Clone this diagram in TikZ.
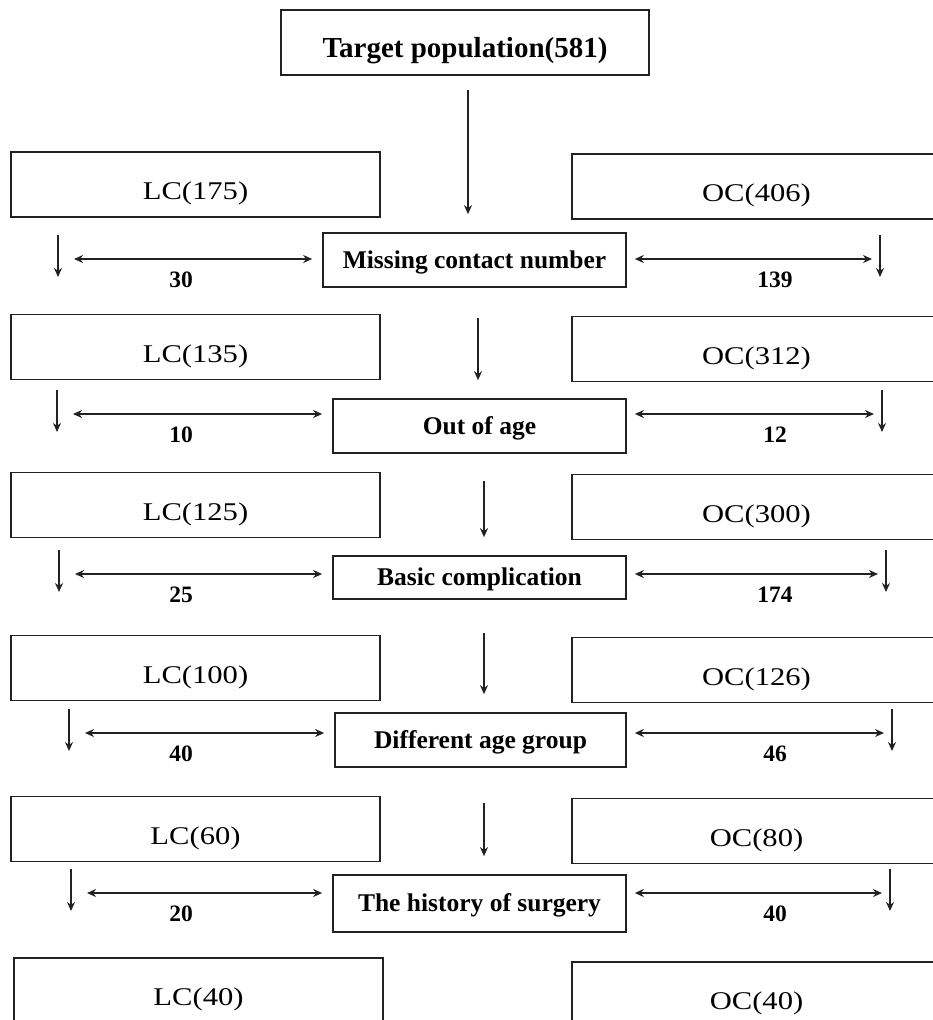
\documentclass[tikz,border=0pt]{standalone}
\usepackage{fontspec}
\setmainfont{Liberation Serif}
\newfontfamily\widefont[FakeStretch=1.2]{Liberation Serif}
\usetikzlibrary{arrows.meta}
\definecolor{INK}{HTML}{222222}

\begin{document}
\begin{tikzpicture}[
    x=1pt, y=-1pt,
    box/.style={draw=INK, line width=1.7pt, inner sep=0pt},
    cbox/.style={box, minimum width=369pt, minimum height=65pt, text height=30pt, text depth=0pt, font=\widefont\fontsize{25.5}{30}\selectfont},
    mbox/.style={box, text height=18pt, text depth=2pt, font=\fontsize{25.5}{30}\selectfont\bfseries},
    topbox/.style={box, minimum width=368pt, minimum height=65pt, text height=30pt, text depth=0pt, font=\fontsize{29}{34}\selectfont\bfseries},
    num/.style={anchor=base, inner sep=0pt, font=\fontsize{23.5}{28}\selectfont\bfseries},
    arr/.style={-{Stealth[length=9pt,width=8pt]}, INK, line width=1.6pt},
    dbl/.style={{Stealth[length=9pt,width=8pt]}-{Stealth[length=9pt,width=8pt]}, INK, line width=1.6pt},
  ]
  \useasboundingbox (0,0) rectangle (933,1020);
  \clip (0,0) rectangle (933,1020);

  % top
  \node[topbox] (top) at (465,42.5) {Target population(581)};

  % filter rows
  \foreach \row/\by/\mx/\my/\mh/\ay/\lx/\rx/\cx/\cy/\lcn/\ocn/\mtxt/\lnum/\rnum in {
      1/184.5/323/260/54/259/58/880/468/90/175/406/Missing contact number/30/139,
      2/347/333/426/54/414/57/882/478/318/135/312/Out of age/10/12,
      3/505/333/577.5/43/574/59/886/484/481/125/300/Basic complication/25/174,
      4/668/335/740/54/733/69/892/484/633/100/126/Different age group/40/46,
      5/829/333/903.5/57/893/71/890/484/803/60/80/The history of surgery/20/40} {
    \node[cbox] (lc\row) at (195.5,\by) {LC(\lcn)};
    \node[cbox] (oc\row) at (756.5,\by+2) {OC(\ocn)};
    \node[mbox, minimum width={(626-\mx)*1pt}, minimum height={\mh*1pt}] (m\row) at ({(\mx+626)/2},\my) {\mtxt};
    % into the middle box
    \coordinate (v\row) at (\cx,\cy);
    \draw[arr, shorten >=18pt] (v\row) -- (v\row |- m\row.north);
    % side arrows
    \coordinate (dl\row) at (\lx,\ay-24);
    \coordinate (dr\row) at (\rx,\ay-24);
    \draw[arr] (dl\row) -- ++(0,42);
    \draw[arr] (dr\row) -- ++(0,42);
    \coordinate (al\row) at (\lx+16,\ay);
    \coordinate (ar\row) at (\rx-8,\ay);
    \draw[dbl, shorten >=10pt] (al\row) -- (al\row -| m\row.west);
    \draw[dbl, shorten <=8pt] (ar\row -| m\row.east) -- (ar\row);
    \node[num] (nl\row) at (181,\ay+28) {\lnum};
    \node[num] (nr\row) at (775,\ay+28) {\rnum};
  }

  % last row
  \node[cbox] (lc6) at (198.5,990.5) {LC(40)};
  \node[cbox] (oc6) at (756.5,994.5) {OC(40)};

\end{tikzpicture}
\end{document}
